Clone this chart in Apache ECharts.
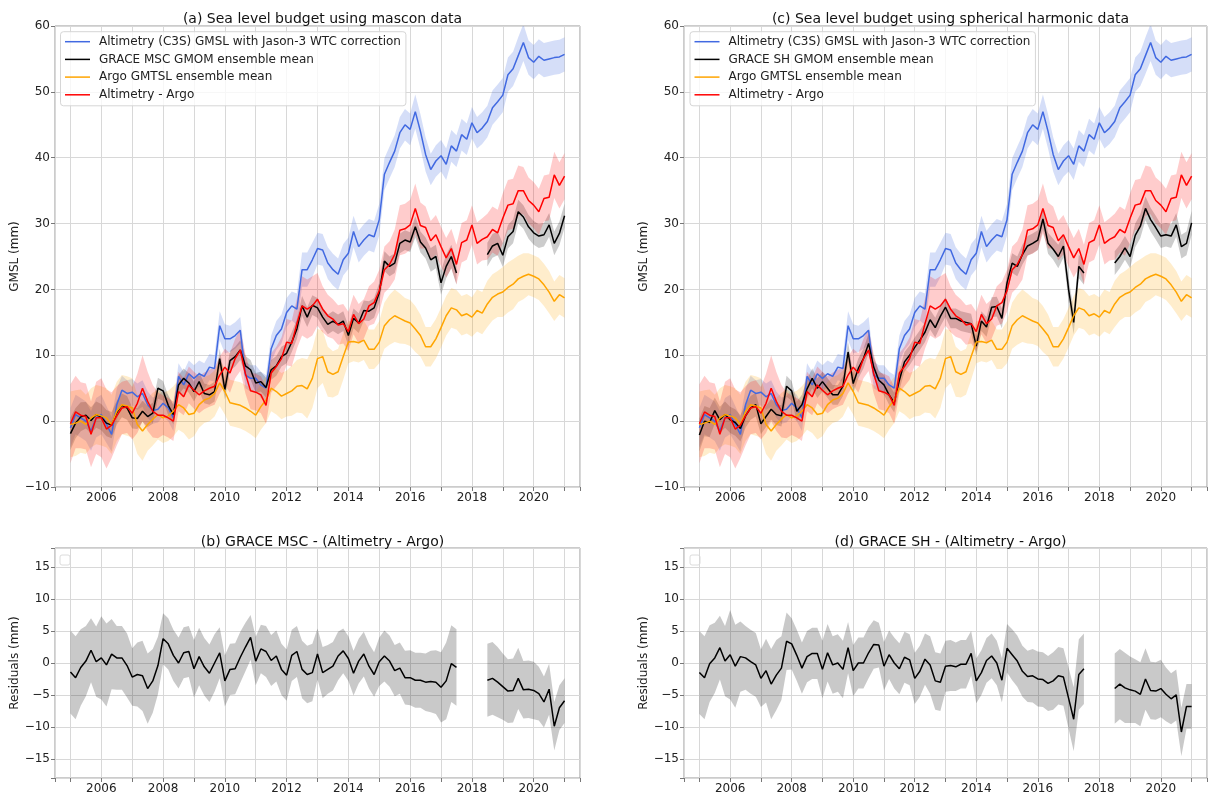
<!DOCTYPE html>
<html><head><meta charset="utf-8">
<script src="https://cdn.jsdelivr.net/npm/echarts@6/dist/echarts.min.js"></script>
<style>html,body{margin:0;padding:0;background:#fff}#c{width:1210px;height:798px}</style>
</head><body><div id="c"></div>
<script>
// ---- sampling grid (every 2 months, 2005.0 .. 2021.0) ----
const T0 = 2005, PER_YEAR = 6, N = 97;
const time = Array.from({length: N}, (_, k) => T0 + k / PER_YEAR);
const xLabelYears = [2006, 2008, 2010, 2012, 2014, 2016, 2018, 2020];

// ---- series values (mm) ----
const altimetry = [-1.0,1.0,0.5,0.0,-1.5,0.5, 1.0,-0.5,-2.0,2.5,4.7,4.2, 4.4,3.7,4.2,2.5,1.6,1.8,
 2.7,2.0,0.5,6.8,5.5,7.2, 6.5,7.2,6.8,8.2,8.0,14.5, 12.5,12.5,13.0,13.8,7.0,6.5,
 6.5,5.5,5.0,11.0,13.0,14.0, 16.5,17.5,17.0,23.0,23.0,24.5, 26.2,26.0,24.0,23.0,22.3,24.5,
 25.5,28.8,26.5,27.5,28.3,28.0, 30.6,37.5,39.3,41.0,43.8,45.0, 44.3,47.0,44.0,40.5,38.2,39.5,
 40.3,39.0,41.8,41.0,43.5,42.8, 45.3,43.8,44.5,45.5,47.6,48.5, 49.5,52.6,53.5,55.5,57.5,55.2,
 54.5,55.4,54.8,55.0,55.2,55.3, 55.7];
const altimetryErr = [3.0,3.0,3.0,3.0,3.0,3.0, 3.0,2.8,2.6,2.4,2.2,2.0, 2.0,2.0,2.0,2.0,2.0,2.0,
 2.0,2.0,2.0,2.0,2.0,2.0, 2.0,2.0,2.0,2.0,2.0,2.2, 2.2,2.0,2.0,2.0,2.0,2.0,
 2.0,2.0,2.0,2.0,2.2,2.2, 2.2,2.2,2.4,2.6,2.6,2.6, 2.4,2.4,2.4,2.4,2.4,2.4,
 2.4,2.4,2.4,2.4,2.4,2.4, 2.4,2.4,2.4,2.4,2.4,2.4, 2.4,2.6,2.6,2.6,2.4,2.4,
 2.4,2.4,2.4,2.4,2.4,2.4, 2.4,2.4,2.4,2.4,2.6,2.6, 2.6,2.6,2.6,2.8,2.8,2.6,
 2.6,2.6,2.6,2.6,2.6,2.6, 2.6];

const argo = [-0.5,-0.3,0.0,-0.5,0.5,1.0, 0.8,0.5,-0.5,1.5,2.5,2.3, 2.0,-0.5,-1.5,-0.5,0.3,1.0,
 0.5,0.8,1.5,2.5,2.0,1.0, 1.2,2.5,3.2,3.5,4.2,5.8, 4.5,2.8,2.6,2.4,2.0,1.5,
 0.9,2.2,3.2,5.0,4.5,3.8, 4.2,4.6,5.3,5.4,4.9,6.5, 9.5,9.8,7.5,7.1,7.5,9.8,
 12.0,12.1,11.9,12.3,10.9,10.9, 12.0,14.5,15.4,16.0,15.6,15.2, 14.9,14.0,13.0,11.3,11.3,12.5,
 14.2,16.0,17.2,16.9,16.0,16.3, 15.8,16.8,16.4,17.8,18.8,19.3, 19.6,20.3,20.8,21.6,22.0,22.3,
 22.0,21.6,20.7,19.6,18.2,19.2, 18.7];
const argoErr = [5.0,5.0,4.8,4.5,4.5,4.5, 4.5,4.5,4.5,4.5,4.5,4.5, 4.5,4.5,4.5,4.0,4.0,3.8,
 3.8,3.8,3.8,3.8,3.8,3.8, 3.5,3.5,3.5,3.5,3.5,3.5, 3.5,3.5,3.5,3.5,3.5,3.5,
 3.5,3.5,3.5,3.5,3.5,3.5, 3.5,3.8,4.0,4.2,4.5,4.5, 4.5,4.0,3.8,3.5,3.5,3.5,
 3.2,3.0,3.0,3.0,3.0,3.0, 3.2,3.5,3.8,4.0,3.8,3.5, 3.5,3.5,3.2,3.0,3.0,3.0,
 3.0,3.0,3.0,3.0,3.0,3.0, 3.0,3.2,3.2,3.5,3.5,3.5, 3.8,3.8,3.8,3.5,3.5,3.2,
 3.2,3.2,3.2,3.2,3.0,3.0, 3.0];

const altMinusArgo = [-0.4,1.4,0.9,0.7,-2.0,0.5, 0.5,-1.2,-0.6,0.8,2.0,2.2, 1.2,2.7,5.0,3.0,1.5,0.9,
 0.9,0.5,0.0,4.5,3.7,5.5, 4.7,4.0,4.6,5.0,5.3,7.0, 8.2,7.3,9.5,10.8,7.2,4.6,
 4.4,4.0,2.4,7.3,8.3,9.5, 12.0,11.8,14.8,17.5,17.0,17.5, 18.5,17.0,16.0,15.5,14.6,14.8,
 13.6,16.2,14.8,15.5,17.5,18.0, 19.8,23.0,23.8,25.3,29.0,29.2, 29.8,32.3,29.7,29.4,27.4,28.3,
 26.5,24.8,26.2,23.8,27.1,27.5, 29.8,27.0,27.6,28.0,29.1,28.6, 30.8,32.8,33.0,35.0,35.0,33.5,
 32.8,31.8,33.8,34.0,37.4,35.8, 37.2];
const altMinusArgoErr = [6.0,5.5,5.0,5.0,5.0,5.5, 6.0,6.0,5.0,4.5,4.0,4.0, 4.0,4.5,5.0,4.5,4.0,3.5,
 3.0,3.0,3.0,3.0,2.8,2.8, 2.8,2.8,2.8,2.8,2.8,2.8, 2.8,3.0,3.0,3.2,3.0,2.8,
 2.8,2.8,2.8,3.0,3.0,3.2, 3.5,3.5,3.8,4.5,4.5,4.5, 4.0,3.5,3.2,3.0,3.0,3.0,
 3.0,3.0,3.0,3.0,3.0,3.2, 3.2,3.5,3.5,3.8,3.8,3.8, 3.8,3.8,3.5,3.2,3.0,3.0,
 3.0,3.0,3.0,3.0,3.0,3.0, 3.0,3.2,3.2,3.5,3.5,3.5, 3.8,3.8,3.8,3.8,3.6,3.5,
 3.5,3.5,3.5,3.5,3.5,3.5, 3.5];

const graceMsc = [-1.9,-0.3,0.65,0.9,0.1,1.0, 0.6,-0.3,-0.6,1.3,2.4,2.0, 0.5,0.4,1.5,0.7,1.2,5.0,
 4.6,2.4,1.0,5.5,6.5,5.8, 4.5,6.0,4.2,4.0,4.5,9.5, 4.8,9.2,9.8,10.8,8.4,7.8,
 5.8,6.0,5.1,7.8,8.4,9.8, 10.3,12.0,14.0,17.5,15.8,17.6, 17.2,15.8,14.7,15.2,14.7,15.2,
 13.0,15.6,14.9,16.8,16.7,17.2, 19.5,24.3,23.5,24.0,27.0,27.5, 27.2,29.5,27.2,26.3,24.5,25.0,
 21.0,23.5,25.0,22.5,null,null, null,null,null,25.3,26.6,27.0, 25.2,28.0,28.8,31.8,31.0,29.5,
 28.6,28.1,28.3,29.8,27.0,28.5, 31.2];
const graceMscErr = [2.5,2.3,2.2,2.0,2.0,2.0, 2.0,2.0,2.0,1.8,1.8,1.8, 1.6,1.6,1.6,1.6,1.6,1.6,
 1.5,1.5,1.5,1.5,1.5,1.5, 1.5,1.5,1.5,1.5,1.5,1.5, 1.5,1.5,1.5,1.5,1.5,1.5,
 1.5,1.5,1.5,1.5,1.5,1.5, 1.5,1.5,1.5,1.5,1.5,1.5, 1.5,1.5,1.5,1.5,1.5,1.5,
 1.5,1.5,1.5,1.5,1.5,1.5, 1.5,1.5,1.5,1.5,1.5,1.5, 1.5,1.6,1.6,1.6,1.8,1.8,
 1.8,1.8,1.8,1.8,0,0, 0,0,0,1.8,1.8,1.8, 1.8,1.8,1.8,1.8,1.8,1.8,
 1.8,1.8,1.8,1.8,1.8,1.8, 1.8];

const graceSh = [-2.1,0.0,-0.2,1.6,0.2,1.0, 0.2,-0.2,-1.1,0.8,2.0,2.5, -0.4,0.7,1.8,1.0,0.8,5.3,
 4.6,1.5,2.5,4.9,6.5,5.0, 6.0,5.0,4.0,4.0,5.3,10.5, 5.7,8.0,9.5,11.8,8.2,6.2,
 5.5,4.0,2.8,6.2,9.0,10.0, 11.2,12.3,13.5,15.4,14.2,15.9, 17.3,15.6,15.6,15.2,15.0,14.8,
 11.4,15.2,14.3,17.3,17.4,15.6, 21.0,24.0,23.5,25.3,26.6,27.0, 27.5,30.7,27.0,26.1,25.0,26.6,
 20.0,15.0,23.5,22.5,null,null, null,null,null,24.0,25.0,26.3, 25.0,28.2,29.6,32.3,30.6,29.4,
 28.1,28.3,28.1,29.8,26.5,27.0, 30.1];
const graceShErr = graceMscErr.slice();

const residMsc = [-1.4,-2.3,-0.7,0.3,2.0,0.2, 0.8,-0.3,1.4,0.8,0.8,-0.4, -2.2,-1.8,-2.0,-4.0,-2.8,-0.4,
 3.8,3.0,1.2,0.0,1.6,1.8, -0.9,1.0,-0.6,-1.6,0.0,1.6, -2.8,-1.0,-0.9,0.9,2.5,4.0,
 0.3,2.2,1.8,0.4,1.1,-1.0, -1.9,1.2,1.8,-1.0,-1.8,-1.5, 1.4,-1.5,-1.0,-0.5,1.1,1.9,
 0.7,-1.6,0.3,1.4,-0.5,-1.8, 0.2,1.1,0.3,-1.2,-0.8,-2.3, -2.3,-2.7,-2.7,-3.0,-2.9,-3.0,
 -3.8,-2.8,-0.1,-0.7,null,null, null,null,null,-2.7,-2.4,-3.0, -3.7,-4.4,-4.3,-2.4,-4.2,-4.1,
 -4.3,-4.8,-6.1,-4.1,-9.9,-7.0, -5.9];
const residMscErr = [6.5,6.5,6.0,5.5,5.0,5.5, 6.5,6.5,5.5,5.0,5.0,5.0, 4.5,5.0,5.5,5.5,5.0,4.5,
 4.0,4.0,4.0,4.0,4.0,4.0, 4.5,4.5,4.5,4.5,4.5,4.0, 4.0,4.0,4.0,4.0,3.8,3.5,
 3.8,3.8,4.0,4.0,4.0,4.0, 4.0,4.0,4.0,4.5,4.5,4.5, 4.0,4.0,3.8,3.8,3.8,3.5,
 3.5,3.5,3.5,3.5,3.5,3.5, 3.8,4.0,4.0,4.0,4.0,4.2, 4.3,4.3,4.3,4.5,4.8,5.0,
 5.5,6.0,6.0,6.0,0,0, 0,0,0,5.7,5.7,5.5, 5.2,5.0,5.0,4.8,4.5,4.5,
 4.5,4.2,4.0,4.0,3.8,3.5, 3.5];

const residSh = [-1.5,-2.3,-0.1,0.8,2.4,0.3, 1.3,-0.5,1.0,0.8,0.2,-0.3, -2.4,-1.2,-3.3,-1.9,-0.8,3.4,
 3.0,1.2,-0.8,1.0,1.5,1.5, -1.0,1.6,-0.3,0.0,-1.0,2.4, -1.2,0.0,0.0,1.6,2.9,2.8,
 -0.5,1.3,0.0,-0.9,0.9,0.5, -2.4,-1.3,0.6,-0.3,-2.8,-3.0, -0.5,-0.4,-0.6,-0.2,-0.2,1.5,
 -2.8,-1.5,0.4,1.1,0.0,-2.7, 2.3,1.3,0.3,-1.3,-2.1,-2.0, -2.5,-2.6,-3.2,-2.8,-2.0,-2.2,
 -5.5,-8.8,-1.8,-0.9,null,null, null,null,null,-4.0,-3.3,-3.9, -4.2,-4.4,-4.9,-2.5,-4.3,-4.4,
 -4.0,-4.9,-5.6,-5.0,-10.8,-6.8, -6.8];
const residShErr = [6.5,6.5,6.0,5.5,5.0,5.5, 7.0,6.5,5.5,5.0,5.0,5.0, 4.5,5.0,5.5,5.5,5.0,4.5,
 4.0,4.0,4.0,4.0,4.0,4.0, 4.5,4.5,4.5,4.5,4.5,4.0, 4.0,4.0,4.0,4.0,3.8,3.5,
 3.8,3.8,4.0,4.0,4.0,4.0, 4.0,4.0,4.0,4.5,4.5,4.5, 4.0,4.0,3.8,3.8,3.8,3.5,
 3.5,3.5,3.5,3.5,3.5,3.5, 3.8,4.0,4.0,4.0,4.0,4.2, 4.3,4.3,4.3,4.5,4.5,4.5,
 4.8,5.0,5.5,5.5,0,0, 0,0,0,5.5,5.5,5.5, 5.2,5.0,5.0,4.8,4.5,4.5,
 4.5,4.2,4.0,4.0,3.8,3.5, 3.5];

// ---- names / texts ----
const NAME_ALT = 'Altimetry (C3S) GMSL with Jason-3 WTC correction';
const NAME_MSC = 'GRACE MSC GMOM ensemble mean';
const NAME_SH = 'GRACE SH GMOM ensemble mean';
const NAME_ARGO = 'Argo GMTSL ensemble mean';
const NAME_DIFF = 'Altimetry - Argo';
const TITLES = ['(a) Sea level budget using mascon data', '(b) GRACE MSC - (Altimetry - Argo)',
  '(c) Sea level budget using spherical harmonic data', '(d) GRACE SH - (Altimetry - Argo)'];

const FONT = 'DejaVu Sans';
const C_BLUE = '#4169e1', C_ORANGE = '#ffa500', C_RED = '#ff0000', C_BLACK = '#000000';
const GRID_COLOR = '#d8d8d8';

const grids = [
  {left: 55, top: 26, width: 525, height: 461},
  {left: 55, top: 548, width: 525, height: 230},
  {left: 684, top: 26, width: 523, height: 461},
  {left: 684, top: 548, width: 523, height: 230}
];

function minus(v) { return String(v).replace('-', '\u2212'); }

function xAx(gi) {
  return {type: 'value', gridIndex: gi, min: 2004.5, max: 2021.5, splitNumber: 17,
    axisLine: {show: false, onZero: false},
    axisTick: {show: true, length: 4, lineStyle: {color: '#777'}},
    axisLabel: {margin: 5, fontSize: 12, color: '#222', fontFamily: FONT,
      formatter: v => xLabelYears.includes(v) ? String(v) : ''},
    splitLine: {show: true, lineStyle: {color: GRID_COLOR, width: 1}}};
}
function yTop(gi) {
  return {type: 'value', gridIndex: gi, min: -10, max: 60, interval: 10,
    name: 'GMSL (mm)', nameLocation: 'middle', nameGap: 31,
    nameTextStyle: {fontSize: 12, color: '#222', fontFamily: FONT},
    axisLine: {show: false, onZero: false},
    axisTick: {show: true, length: 4, lineStyle: {color: '#777'}},
    axisLabel: {margin: 5, fontSize: 12, color: '#222', fontFamily: FONT, formatter: minus},
    splitLine: {show: true, lineStyle: {color: GRID_COLOR, width: 1}}};
}
function yBot(gi) {
  return {type: 'value', gridIndex: gi, min: -18, max: 18, splitNumber: 7,
    name: 'Residuals (mm)', nameLocation: 'middle', nameGap: 31,
    nameTextStyle: {fontSize: 12, color: '#222', fontFamily: FONT},
    axisLine: {show: false, onZero: false},
    axisTick: {show: true, length: 4, lineStyle: {color: '#777'}},
    axisLabel: {margin: 5, fontSize: 12, color: '#222', fontFamily: FONT,
      formatter: v => Math.abs(v) >= 18 ? '' : minus(v)},
    splitLine: {show: true, lineStyle: {color: GRID_COLOR, width: 1}}};
}

function lineSeries(gi, name, vals, color, z) {
  return {type: 'line', name, xAxisIndex: gi, yAxisIndex: gi, symbol: 'none', z,
    lineStyle: {color, width: 1.5}, itemStyle: {color}, animation: false,
    data: time.map((x, i) => [x, vals[i] == null ? null : vals[i]])};
}
function bandSeries(gi, mid, err, color, z) {
  return {type: 'custom', xAxisIndex: gi, yAxisIndex: gi, silent: true, z, clip: true,
    animation: false,
    data: time.map((x, i) => [x, mid[i] == null ? 0 : mid[i]]),
    renderItem: function (params, api) {
      if (params.dataIndex !== 0) return null;
      const segs = []; let cur = [];
      for (let i = 0; i < time.length; i++) {
        if (mid[i] == null) { if (cur.length) segs.push(cur); cur = []; }
        else cur.push(i);
      }
      if (cur.length) segs.push(cur);
      return {type: 'group', children: segs.map(seg => {
        const up = seg.map(i => api.coord([time[i], mid[i] + err[i]]));
        const lo = seg.slice().reverse().map(i => api.coord([time[i], mid[i] - err[i]]));
        return {type: 'polygon', shape: {points: up.concat(lo)}, style: {fill: color}};
      })};
    }};
}

const series = [];
[[0, graceMsc, graceMscErr, NAME_MSC], [2, graceSh, graceShErr, NAME_SH]].forEach(([gi, g, ge, gname]) => {
  series.push(bandSeries(gi, altimetry, altimetryErr, 'rgba(65,105,225,0.22)', 1));
  series.push(bandSeries(gi, g, ge, 'rgba(0,0,0,0.2)', 1));
  series.push(bandSeries(gi, argo, argoErr, 'rgba(255,165,0,0.2)', 1));
  series.push(bandSeries(gi, altMinusArgo, altMinusArgoErr, 'rgba(255,0,0,0.2)', 1));
  series.push(lineSeries(gi, NAME_ALT, altimetry, C_BLUE, 3));
  series.push(lineSeries(gi, gname, g, C_BLACK, 4));
  series.push(lineSeries(gi, NAME_ARGO, argo, C_ORANGE, 5));
  series.push(lineSeries(gi, NAME_DIFF, altMinusArgo, C_RED, 6));
});
[[1, residMsc, residMscErr], [3, residSh, residShErr]].forEach(([gi, r, re]) => {
  series.push(bandSeries(gi, r, re, 'rgba(0,0,0,0.21)', 1));
  series.push(lineSeries(gi, 'resid' + gi, r, C_BLACK, 3));
});

function legendAt(left, names) {
  return {orient: 'vertical', left, top: 31.7, padding: [3, 5, 4, 4.5],
    icon: 'path://M0,0H100V6H0Z', itemWidth: 25, itemHeight: 14, itemGap: 3.7,
    backgroundColor: 'rgba(255,255,255,0.8)', borderColor: '#d6d6d6', borderWidth: 1, borderRadius: 3,
    textStyle: {fontSize: 12, color: '#222', fontFamily: FONT, lineHeight: 14, padding: [0, 0, 0, 4]},
    selectedMode: false, data: names};
}

const option = {
  animation: false,
  backgroundColor: '#fff',
  title: TITLES.map((t, i) => ({text: t, left: grids[i].left + grids[i].width / 2, textAlign: 'center',
    top: i % 2 === 0 ? 7 : 530,
    textStyle: {fontSize: 14, fontWeight: 'normal', color: '#111', fontFamily: FONT}})),
  grid: grids.map(g => Object.assign({show: true, borderColor: '#999', borderWidth: 1, backgroundColor: 'transparent'}, g)),
  xAxis: [0, 1, 2, 3].map(xAx),
  yAxis: [yTop(0), yBot(1), yTop(2), yBot(3)],
  legend: [legendAt(60.5, [NAME_ALT, NAME_MSC, NAME_ARGO, NAME_DIFF]),
           legendAt(690, [NAME_ALT, NAME_SH, NAME_ARGO, NAME_DIFF])],
  graphic: [
    {type: 'rect', shape: {x: 60, y: 555, width: 10, height: 10, r: 2}, style: {fill: '#fff', stroke: '#dcdcdc', lineWidth: 1}},
    {type: 'rect', shape: {x: 690, y: 555, width: 10, height: 10, r: 2}, style: {fill: '#fff', stroke: '#dcdcdc', lineWidth: 1}}
  ],
  series
};
const chart = echarts.init(document.getElementById('c'), null, {renderer: 'canvas'});
chart.setOption(option);
</script></body></html>
